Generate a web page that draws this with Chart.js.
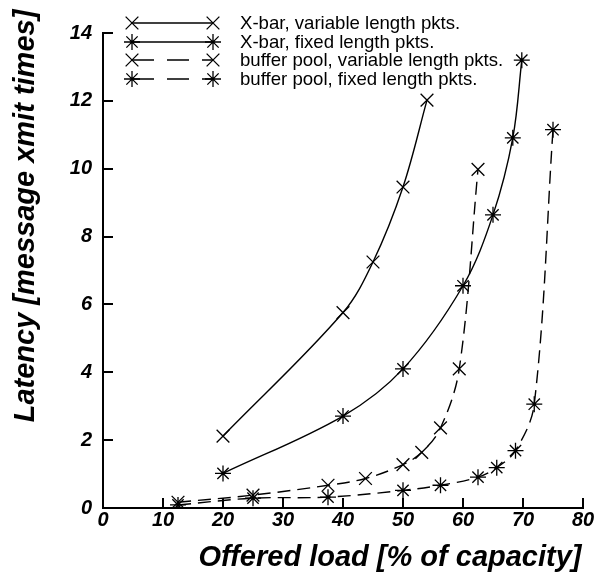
<!DOCTYPE html>
<html>
<head>
<meta charset="utf-8">
<script src="https://cdn.jsdelivr.net/npm/chart.js@4/dist/chart.umd.min.js"></script>
<style>
  html, body { margin: 0; padding: 0; background: #ffffff; }
  #wrap { width: 609px; height: 573px; }
</style>
</head>
<body>
<div id="wrap"><canvas id="c" width="609" height="573"></canvas></div>
<script>
// ---- data ----
const seriesNames = [
  "X-bar, variable length pkts.",
  "X-bar, fixed length pkts.",
  "buffer pool, variable length pkts.",
  "buffer pool, fixed length pkts."
];
const xbarVarLoad  = [20, 40, 45, 50, 54];
const xbarVarLat   = [2.12, 5.76, 7.25, 9.46, 12.02];
const xbarFixLoad  = [20, 40, 50, 60, 65, 68.3, 69.8];
const xbarFixLat   = [1.02, 2.71, 4.10, 6.55, 8.64, 10.91, 13.2];
const bufVarLoad   = [12.5, 25, 37.5, 43.75, 50, 53.125, 56.25, 59.375, 62.5];
const bufVarLat    = [0.17, 0.38, 0.67, 0.87, 1.28, 1.64, 2.36, 4.10, 9.98];
const bufFixLoad   = [12.5, 25, 37.5, 50, 56.25, 62.5, 65.625, 68.75, 71.875, 75];
const bufFixLat    = [0.09, 0.29, 0.32, 0.52, 0.67, 0.91, 1.19, 1.69, 3.06, 11.15];
const xTicks = [0, 10, 20, 30, 40, 50, 60, 70, 80];
const yTicks = [0, 2, 4, 6, 8, 10, 12, 14];
const xTitle = "Offered load [% of capacity]";
const yTitle = "Latency [message xmit times]";

function zip(xs, ys) { return xs.map((x, i) => ({ x: x, y: ys[i] })); }

const DASH = [13, 7];
function ds(label, xs, ys, style, dashed) {
  return {
    label: label,
    data: zip(xs, ys),
    borderColor: '#000',
    borderWidth: 1.4,
    borderDash: dashed ? DASH : [],
    tension: 0.35,
    fill: false,
    pointStyle: style,
    pointRadius: style === 'crossRot' ? 9 : 8,
    pointHoverRadius: style === 'crossRot' ? 9 : 8,
    pointBorderColor: '#000',
    pointBackgroundColor: '#000',
    pointBorderWidth: 1.3,
    _dashed: dashed
  };
}

const datasets = [
  ds(seriesNames[0], xbarVarLoad, xbarVarLat, 'crossRot', false),
  ds(seriesNames[1], xbarFixLoad, xbarFixLat, 'star', false),
  ds(seriesNames[2], bufVarLoad, bufVarLat, 'crossRot', true),
  ds(seriesNames[3], bufFixLoad, bufFixLat, 'star', true)
];

const TICK_FONT = { family: "'Liberation Sans', Arial, sans-serif", size: 20, weight: 'bold', style: 'italic' };

const customLegend = {
  id: 'customLegend',
  afterDraw(chart) {
    const ctx = chart.ctx;
    const rowsY = [23, 42, 60, 79];
    const x0 = 132, x1 = 213, tx = 240;
    chart.data.datasets.forEach((d, i) => {
      const y = rowsY[i];
      ctx.save();
      ctx.strokeStyle = '#000';
      ctx.lineWidth = 1.4;
      ctx.setLineDash(d._dashed ? [22, 13] : []);
      ctx.beginPath();
      ctx.moveTo(x0, y);
      ctx.lineTo(x1, y);
      ctx.stroke();
      ctx.setLineDash([]);
      const opts = { pointStyle: d.pointStyle, radius: d.pointRadius, borderWidth: d.pointBorderWidth, rotation: 0 };
      ctx.lineWidth = d.pointBorderWidth;
      Chart.helpers.drawPoint(ctx, opts, x0, y);
      Chart.helpers.drawPoint(ctx, opts, x1, y);
      ctx.fillStyle = '#000';
      ctx.font = "18.6px 'Liberation Sans', Arial, sans-serif";
      ctx.textBaseline = 'middle';
      ctx.textAlign = 'left';
      ctx.fillText(d.label, tx, y + 1);
      ctx.restore();
    });
  }
};

const axisTitles = {
  id: 'axisTitles',
  afterDraw(chart) {
    const ctx = chart.ctx;
    ctx.save();
    ctx.fillStyle = '#000';
    ctx.font = "italic bold 29px 'Liberation Sans', Arial, sans-serif";
    ctx.textAlign = 'center';
    ctx.textBaseline = 'alphabetic';
    ctx.fillText(xTitle, 390, 566);
    ctx.translate(34, 216);
    ctx.rotate(-Math.PI / 2);
    ctx.fillText(yTitle, 0, 0);
    ctx.restore();
  }
};

new Chart(document.getElementById('c'), {
  type: 'line',
  data: { datasets: datasets },
  plugins: [customLegend, axisTitles],
  options: {
    responsive: false,
    animation: false,
    events: [],
    layout: { padding: { left: 0, top: 27, right: 26, bottom: 0 } },
    plugins: { legend: { display: false }, tooltip: { enabled: false } },
    scales: {
      x: {
        type: 'linear',
        min: 0, max: 80,
        afterBuildTicks(scale) { scale.ticks = xTicks.map(v => ({ value: v })); },
        afterFit(scale) { scale.height = 65; },
        ticks: { color: '#000', font: TICK_FONT, padding: 10, maxRotation: 0, autoSkip: false },
        grid: { drawOnChartArea: false, drawTicks: true, tickLength: -10, color: '#000', lineWidth: 2 },
        border: { display: true, color: '#000', width: 2 }
      },
      y: {
        type: 'linear',
        min: 0, max: 14,
        afterBuildTicks(scale) { scale.ticks = yTicks.map(v => ({ value: v })); },
        afterFit(scale) { scale.width = 103; },
        ticks: { color: '#000', font: TICK_FONT, padding: 21, autoSkip: false },
        grid: { drawOnChartArea: false, drawTicks: true, tickLength: -10, color: '#000', lineWidth: 2 },
        border: { display: true, color: '#000', width: 2 }
      }
    }
  }
});
</script>
</body>
</html>
